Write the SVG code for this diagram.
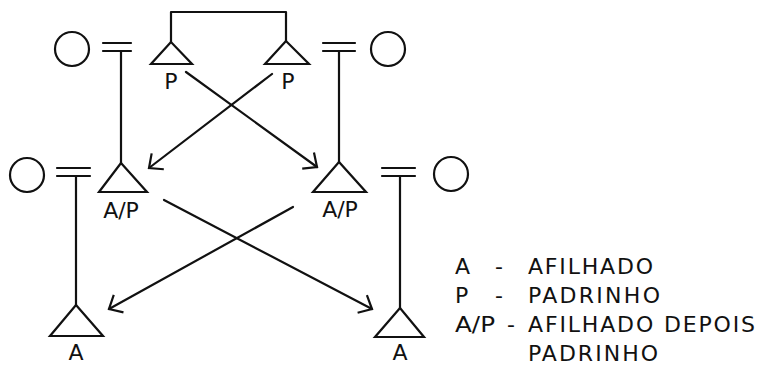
<svg xmlns="http://www.w3.org/2000/svg" width="759" height="369" viewBox="0 0 759 369">
<style>
.ln{stroke:#111;stroke-width:2.2;fill:none;stroke-linecap:round;stroke-linejoin:round}
.tri{stroke:#111;stroke-width:2.2;fill:none;stroke-linejoin:miter}
.c{stroke:#111;stroke-width:2.2;fill:none}
.t{font-family:"DejaVu Sans","Liberation Sans",sans-serif;font-size:22px;fill:#111}
.m{text-anchor:middle}
</style>
<defs>
<marker id="arr" markerUnits="userSpaceOnUse" markerWidth="30" markerHeight="30" viewBox="-15 -15 30 30" refX="0" refY="0" orient="auto">
<path d="M-11,-10 L0,0 L-11,10" fill="none" stroke="#111" stroke-width="2.2"/>
</marker>
</defs>
<rect width="759" height="369" fill="#fff"/>
<g id="connectors">
<path class="ln" d="M171,42 V12 H286 V41"/>
<path class="ln" d="M121,51 V163"/>
<path class="ln" d="M339,51 V162"/>
<path class="ln" d="M76,176 V305"/>
<path class="ln" d="M400,176 V308"/>
<line class="ln" x1="272" y1="74" x2="149" y2="168" marker-end="url(#arr)"/>
<line class="ln" x1="186" y1="72" x2="317" y2="167" marker-end="url(#arr)"/>
<line class="ln" x1="164" y1="200" x2="372" y2="309" marker-end="url(#arr)"/>
<line class="ln" x1="293" y1="207" x2="109" y2="309" marker-end="url(#arr)"/>
</g>
<g id="spouse-top-left">
<circle class="c" cx="72" cy="49" r="17"/>
<path class="ln" d="M103,43 H131 M103,51 H131"/>
</g>
<g id="spouse-top-right">
<circle class="c" cx="388" cy="49" r="17"/>
<path class="ln" d="M323,43 H355 M323,51 H355"/>
</g>
<g id="spouse-mid-left">
<circle class="c" cx="27" cy="175" r="17"/>
<path class="ln" d="M57,168 H90 M57,176 H90"/>
</g>
<g id="spouse-mid-right">
<circle class="c" cx="451" cy="174" r="17"/>
<path class="ln" d="M382,168 H415 M382,176 H415"/>
</g>
<g id="p-left">
<polygon class="tri" points="171,42 151,64 192,64"/>
<text class="t m" x="171" y="89">P</text>
</g>
<g id="p-right">
<polygon class="tri" points="286,41 265,64 309,64"/>
<text class="t m" x="288" y="89">P</text>
</g>
<g id="ap-left">
<polygon class="tri" points="121,163 99,192 147,192"/>
<text class="t m" x="121" y="218">A/P</text>
</g>
<g id="ap-right">
<polygon class="tri" points="339,162 313,192 366,192"/>
<text class="t m" x="340" y="217">A/P</text>
</g>
<g id="a-left">
<polygon class="tri" points="76,305 50,336 103,336"/>
<text class="t m" x="76" y="360">A</text>
</g>
<g id="a-right">
<polygon class="tri" points="400,308 375,337 424,337"/>
<text class="t m" x="400" y="360">A</text>
</g>
<g id="legend">
<text class="t" x="455" y="274">A</text>
<text class="t m" x="499" y="274">-</text>
<text class="t" x="528" y="274" textLength="125" lengthAdjust="spacing">AFILHADO</text>
<text class="t" x="455" y="303">P</text>
<text class="t m" x="499" y="303">-</text>
<text class="t" x="528" y="303" textLength="132" lengthAdjust="spacing">PADRINHO</text>
<text class="t" x="455" y="332" textLength="40" lengthAdjust="spacingAndGlyphs">A/P</text>
<text class="t m" x="511" y="332">-</text>
<text class="t" x="528" y="332" textLength="227" lengthAdjust="spacing">AFILHADO DEPOIS</text>
<text class="t" x="528" y="361" textLength="130" lengthAdjust="spacing">PADRINHO</text>
</g>
</svg>
